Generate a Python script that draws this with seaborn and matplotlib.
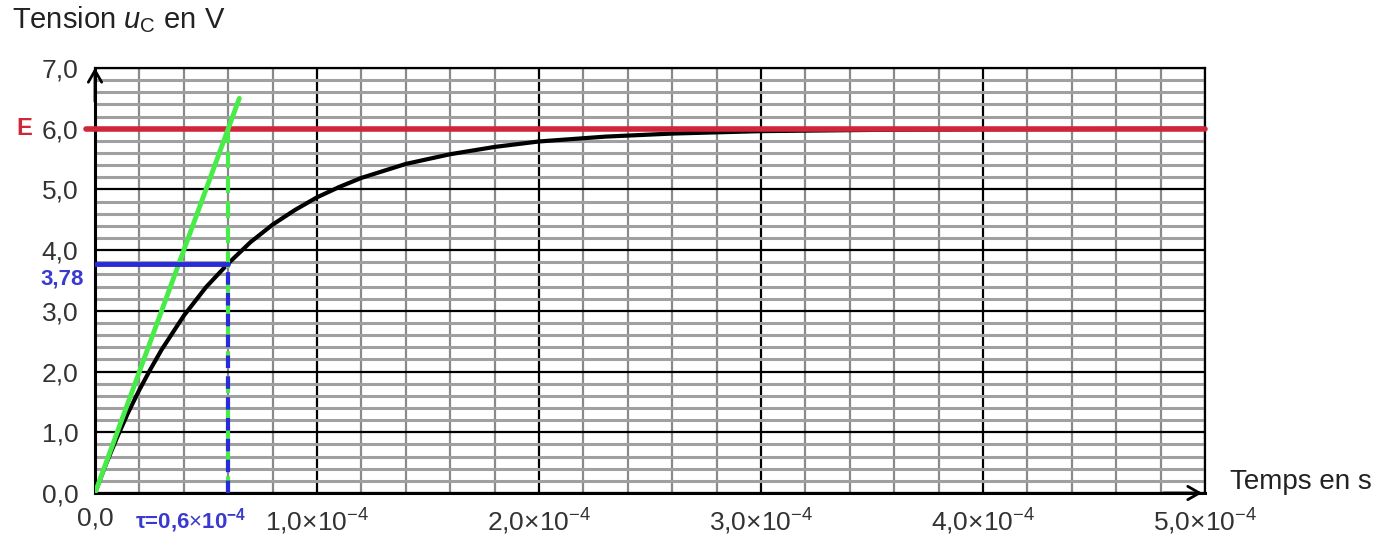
import numpy as np
import pandas as pd
import seaborn as sns
from matplotlib import pyplot as plt

# charge d'un condensateur : lectures sur le graphe (t en 1e-4 s, u en V)
t_curve = [0.0, 0.05, 0.1, 0.15, 0.2, 0.25, 0.3, 0.4, 0.5, 0.6, 0.7, 0.8, 0.9, 1.0,
           1.1, 1.2, 1.4, 1.6, 1.8, 2.0, 2.3, 2.6, 3.0, 3.5, 4.0, 5.0]
u_curve = [0.0, 0.48, 0.92, 1.33, 1.70, 2.04, 2.36, 2.92, 3.39, 3.78, 4.13, 4.42, 4.66, 4.87,
           5.04, 5.19, 5.42, 5.58, 5.70, 5.79, 5.87, 5.92, 5.96, 5.98, 5.99, 6.0]
E = 6.0
tau = 0.6
u_tau = 3.78
tangent_t = [0.0, 0.65]
tangent_u = [0.0, 6.5]

x_ticks = [0, 1, 2, 3, 4, 5]
x_labels = ['0,0', r'1,0$\times$10$^{-4}$', r'2,0$\times$10$^{-4}$', r'3,0$\times$10$^{-4}$',
            r'4,0$\times$10$^{-4}$', r'5,0$\times$10$^{-4}$']
y_ticks = [0, 1, 2, 3, 4, 5, 6, 7]
y_labels = ['0,0', '1,0', '2,0', '3,0', '4,0', '5,0', '6,0', '7,0']

scale = 1e-4
df = pd.DataFrame({'t': np.array(t_curve) * scale, 'u': u_curve})

sns.set_theme(style='white')
plt.rcParams['font.family'] = ['Liberation Sans', 'DejaVu Sans']
plt.rcParams['mathtext.fontset'] = 'custom'
plt.rcParams['mathtext.rm'] = 'Liberation Sans'
plt.rcParams['mathtext.it'] = 'Liberation Sans:italic'
plt.rcParams['mathtext.bf'] = 'Liberation Sans:bold'

fig = plt.figure(figsize=(13.93, 5.36), dpi=100)
ax = fig.add_axes([95/1393, 43/536, 1110/1393, 425/536])

ax.set_xlim(0, x_ticks[-1] * scale)
ax.set_ylim(0, y_ticks[-1])

# papier millimétré
ax.set_xticks(np.array(x_ticks) * scale)
ax.set_xticks(np.arange(0, x_ticks[-1] + 0.01, 0.2) * scale, minor=True)
ax.set_yticks(y_ticks)
ax.set_yticks(np.arange(0, y_ticks[-1] + 0.01, 0.2), minor=True)
ax.set_xticklabels(x_labels)
ax.set_yticklabels(y_labels)
ax.grid(which='minor', axis='y', color='#a0a0a0', lw=2.2, zorder=0)
ax.grid(which='minor', axis='x', color='#8a8a8a', lw=1.6, zorder=0)
ax.grid(which='major', color='black', lw=1.6, zorder=1)
ax.set_axisbelow(True)
for s in ax.spines.values():
    s.set_color('black')
    s.set_linewidth(1.6)
ax.spines['left'].set_linewidth(2.2)
ax.spines['bottom'].set_linewidth(2.2)

ax.tick_params(which='major', direction='out', length=7, width=1.6, color='black',
               labelsize=19, labelcolor='#333333')
ax.tick_params(which='minor', length=0)
ax.tick_params(axis='y', pad=5)
ax.tick_params(axis='x', pad=3)

# courbe
sns.lineplot(data=df, x='t', y='u', ax=ax, color='black', lw=3, zorder=3)
ax.set_xlabel('')
ax.set_ylabel('')

# asymptote E
ax.axhline(E, xmin=-0.008, color='#d0263a', lw=4, zorder=4, clip_on=False)
# tangente à l'origine
ax.plot(np.array(tangent_t) * scale, tangent_u, color='#48ec48', lw=3.5, zorder=5)
# constructions pour tau
ax.plot([tau * scale, tau * scale], [0, E], color='#48ec48', lw=3, ls=(0, (4, 2)), zorder=5)
ax.plot([tau * scale, tau * scale], [0, u_tau], color='#2a2ad8', lw=3, ls=(0, (3, 2)), zorder=6)
ax.plot([0, tau * scale], [u_tau, u_tau], color='#2a2ad8', lw=3.5, zorder=6)

# flèches des axes
xmax = ax.get_xlim()[1]
ymax = ax.get_ylim()[1]
ax.annotate('', xy=(0, ymax + 0.05), xytext=(0, ymax - 0.6),
            arrowprops=dict(arrowstyle='->,head_length=0.7,head_width=0.4', lw=2, color='black'),
            annotation_clip=False, zorder=7)
ax.annotate('', xy=(xmax, 0), xytext=(xmax - 0.2 * scale, 0),
            arrowprops=dict(arrowstyle='->,head_length=0.7,head_width=0.4', lw=2, color='black'),
            annotation_clip=False, zorder=7)

# textes
yt = ax.get_yaxis_transform()
ax.text(-0.064, E, 'E', transform=yt, color='#d0263a', fontsize=17, fontweight='bold',
        ha='center', va='center')
ax.text(-0.03, u_tau - 0.08, '3,78', transform=yt, color='#3a3ad0', fontsize=16,
        fontweight='bold', ha='center', va='top')
ax.text(0.43 * scale, -0.45, r'$\mathbf{\tau}$=0,6$\times$10$^{\mathbf{-4}}$', color='#3a3ad0',
        fontsize=16, fontweight='bold', ha='center', va='center')
fig.text(12/1393, 1 - 20/536, r'Tension $u_{\mathrm{C}}$ en V', fontsize=21, color='#222222',
         ha='left', va='center')
fig.text(1230/1393, 1 - 482/536, 'Temps en s', fontsize=20, color='#222222',
         ha='left', va='center')

plt.savefig('out.png', dpi=100)
